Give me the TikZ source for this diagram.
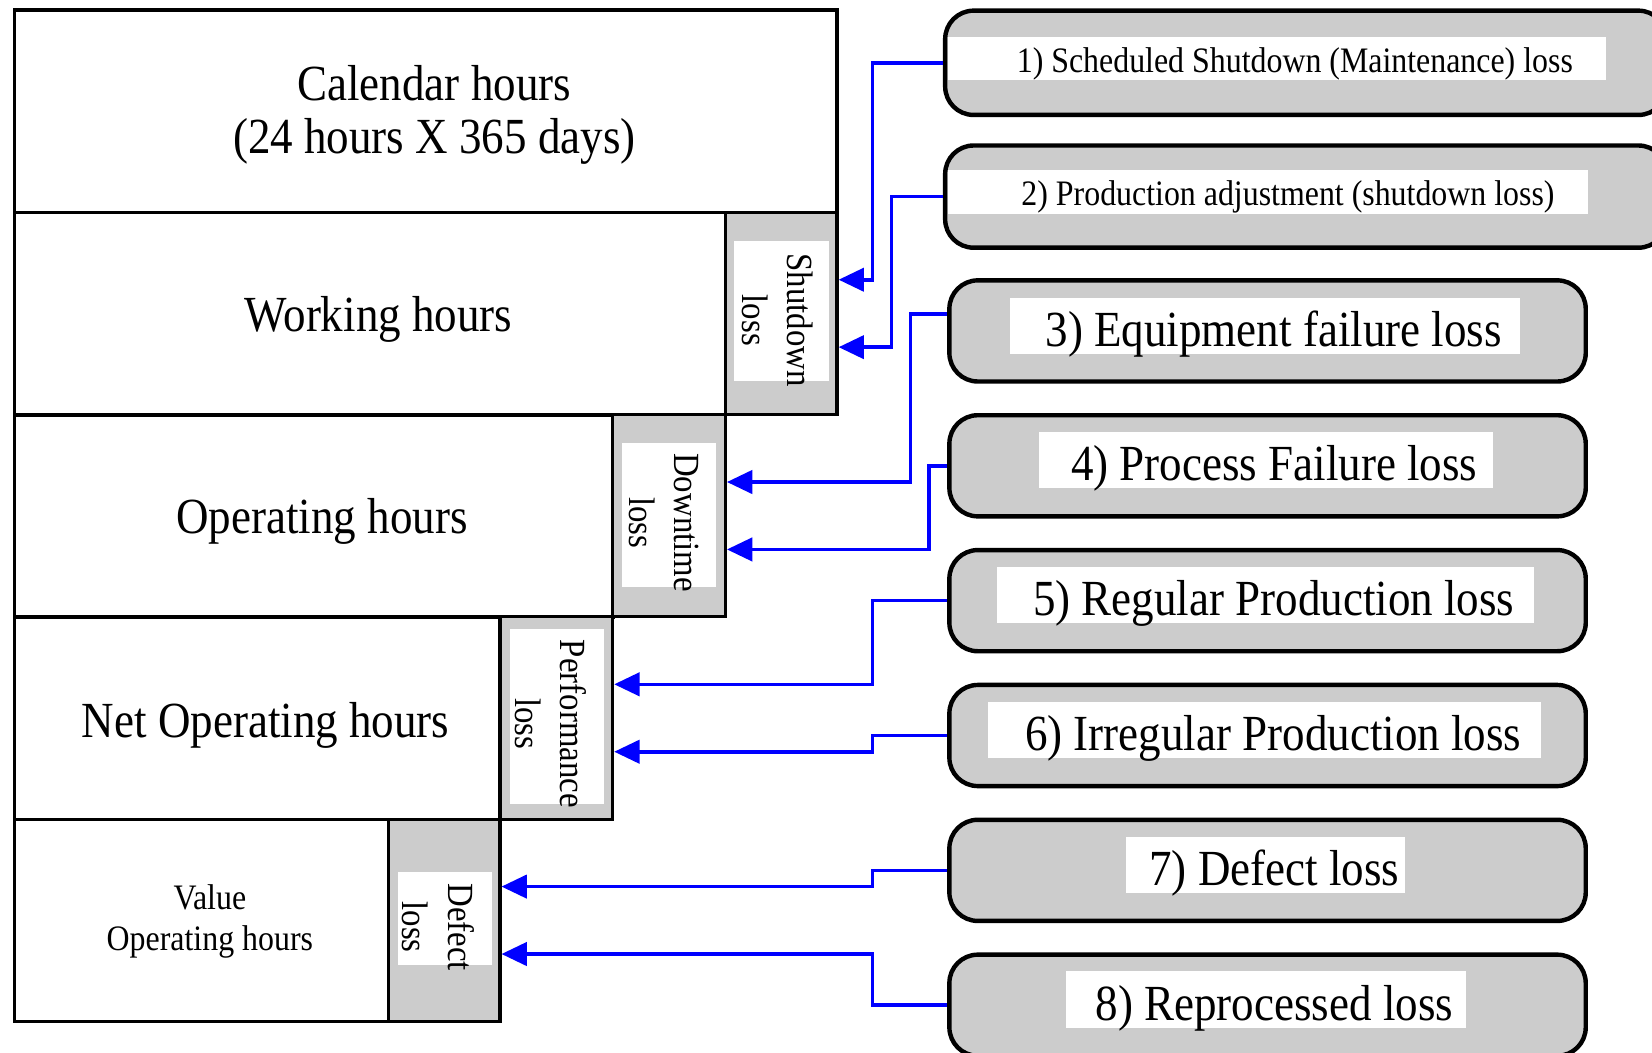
\documentclass[tikz,border=0pt]{standalone}
\usepackage{fontspec}
\setmainfont{Liberation Serif}[FakeStretch=0.89]
\usetikzlibrary{arrows.meta,calc}
\definecolor{lossgray}{RGB}{204,204,204}
\definecolor{linkblue}{RGB}{0,0,255}
% a line of text whose baseline sits #1 below the node centre
\newcommand{\lowline}[2]{\raisebox{-#1}[0pt][0pt]{#2}}
\tikzset{
  hoursbox/.style={draw, line width=3.4pt, fill=white, anchor=north west, inner sep=0pt, align=center},
  bigfont/.style={font=\fontsize{48}{50}\selectfont},
  smallfont/.style={font=\fontsize{34}{38}\selectfont},
  lossbox/.style={draw, line width=3pt, fill=lossgray, anchor=north west, inner sep=0pt},
  losstext/.style={rotate=-90, align=center, inner sep=0pt, font=\fontsize{35}{43}\selectfont},
  rbox/.style={draw, line width=4.2pt, fill=lossgray, rounded corners=27pt, anchor=north west, inner sep=0pt},
  wlabel/.style={fill=white, inner sep=0pt},
  conn/.style={draw=linkblue, line width=3.4pt, -{Triangle[length=24pt,width=22pt]}}
}
\begin{document}
\begin{tikzpicture}[x=1pt,y=-1pt]
\useasboundingbox (0,0) rectangle (1568,999);
\clip (0,0) rectangle (1568,999);

% time breakdown (left staircase)
\node[hoursbox, bigfont, minimum width=781pt, minimum height=192pt] (cal) at (12,8)
  {\hspace*{16pt}\lowline{15pt}{Calendar hours}\\\hspace*{16pt}\lowline{15pt}{(24 hours X 365 days)}};
\node[hoursbox, bigfont, minimum width=675pt, minimum height=192pt] (work) at (12,200)
  {\hspace*{16pt}\lowline{17pt}{Working hours}};
\node[lossbox, minimum width=106pt, minimum height=192pt] (sd) at (687,200) {};
\node[hoursbox, bigfont, minimum width=568pt, minimum height=192pt] (oper) at (12,392)
  {\hspace*{16pt}\lowline{17pt}{Operating hours}};
\node[lossbox, minimum width=107pt, minimum height=192pt] (dt) at (580,392) {};
\node[hoursbox, bigfont, minimum width=461pt, minimum height=192pt] (net) at (12,584)
  {\hspace*{16pt}\lowline{18pt}{Net Operating hours}};
\node[lossbox, minimum width=107pt, minimum height=192pt] (pf) at (473,584) {};
\node[hoursbox, smallfont, minimum width=355pt, minimum height=192pt] (val) at (12,776)
  {\hspace*{16pt}\lowline{9pt}{Value}\\\hspace*{16pt}\lowline{9pt}{Operating hours}};
\node[lossbox, minimum width=106pt, minimum height=192pt] (df) at (367,776) {};

% white panels inside the loss columns
\fill[white] (697,229) rectangle (787,362);
\fill[white] (590,420) rectangle (680,557);
\fill[white] (484,597) rectangle (573,763);
\fill[white] (378,828) rectangle (467,916);

\node[losstext] (sdt) at (738,304) {Shutdown\\loss};
\node[losstext] (dtt) at (630,496) {Downtime\\loss};
\node[losstext] (pft) at (523,687) {Performance\\loss};
\node[losstext] (dft) at (416,880) {Defect\\loss};

% loss categories (right column)
\node[rbox, minimum width=685pt, minimum height=99pt] (b1) at (895,8) {};
\node[rbox, minimum width=685pt, minimum height=97pt] (b2) at (895,136) {};
\node[rbox, minimum width=604pt, minimum height=96pt] (b3) at (899,264) {};
\node[rbox, minimum width=604pt, minimum height=96pt] (b4) at (899,392) {};
\node[rbox, minimum width=604pt, minimum height=96pt] (b5) at (899,520) {};
\node[rbox, minimum width=604pt, minimum height=96pt] (b6) at (899,648) {};
\node[rbox, minimum width=604pt, minimum height=96pt] (b7) at (899,776) {};
\node[rbox, minimum width=604pt, minimum height=96pt] (b8) at (899,904) {};

\node[wlabel, smallfont, minimum width=624pt, minimum height=41pt] (l1) at (1212,55.5)
  {\hspace*{34pt}\lowline{13pt}{1) Scheduled Shutdown (Maintenance) loss}};
\node[wlabel, smallfont, minimum width=607pt, minimum height=42pt] (l2) at (1203.5,182)
  {\hspace*{38pt}\lowline{13pt}{2) Production adjustment (shutdown loss)}};
\node[wlabel, bigfont, minimum width=484pt, minimum height=53pt] (l3) at (1201,309.5)
  {\hspace*{16pt}\lowline{19.5pt}{3) Equipment failure loss}};
\node[wlabel, bigfont, minimum width=431pt, minimum height=53pt] (l4) at (1201.5,436.5)
  {\hspace*{16pt}\lowline{19.5pt}{4) Process Failure loss}};
\node[wlabel, bigfont, minimum width=510pt, minimum height=53pt] (l5) at (1201,564.5)
  {\hspace*{16pt}\lowline{19.5pt}{5) Regular Production loss}};
\node[wlabel, bigfont, minimum width=525pt, minimum height=53pt] (l6) at (1200.5,692.5)
  {\hspace*{16pt}\lowline{19.5pt}{6) Irregular Production loss}};
\node[wlabel, bigfont, minimum width=265pt, minimum height=53pt] (l7) at (1201.5,821)
  {\hspace*{16pt}\lowline{19.5pt}{7) Defect loss}};
\node[wlabel, bigfont, minimum width=379pt, minimum height=54pt] (l8) at (1201.5,949)
  {\hspace*{16pt}\lowline{19.5pt}{8) Reprocessed loss}};

% bend columns of the connectors
\coordinate (kA) at (828,0);
\coordinate (kB) at (846,0);
\coordinate (kC) at (864,0);
\coordinate (kD) at (882,0);
\coordinate (s3) at ([yshift=16pt]b3.west);

\draw[conn] (b1.west) -- (b1.west -| kA) |- ([yshift=32pt]sd.east);
\draw[conn] (b2.west) -- (b2.west -| kB) |- ([yshift=-32pt]sd.east);
\draw[conn] (s3) -- (s3 -| kC) |- ([yshift=32pt]dt.east);
\draw[conn] (b4.west) -- (b4.west -| kD) |- ([yshift=-32pt]dt.east);
\draw[conn] (b5.west) -- (b5.west -| kA) |- ([yshift=32pt]pf.east);
\draw[conn] (b6.west) -- (b6.west -| kA) |- ([yshift=-32pt]pf.east);
\draw[conn] (b7.west) -- (b7.west -| kA) |- ([yshift=32pt]df.east);
\draw[conn] (b8.west) -- (b8.west -| kA) |- ([yshift=-32pt]df.east);
\end{tikzpicture}
\end{document}
